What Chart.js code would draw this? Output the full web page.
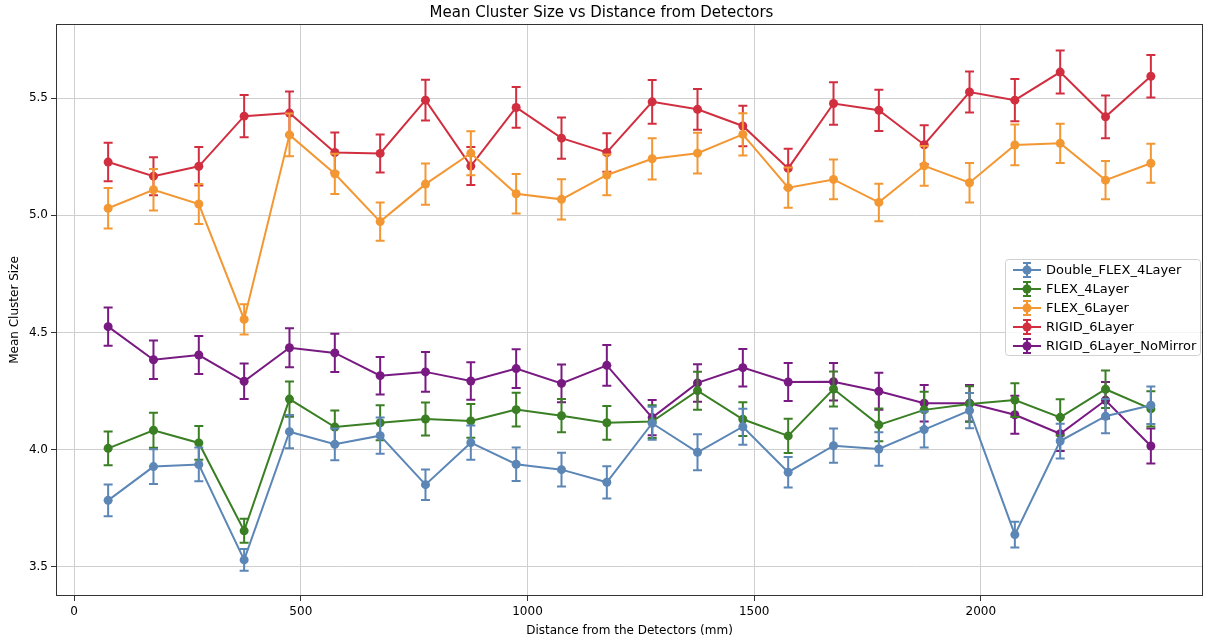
<!DOCTYPE html>
<html>
<head>
<meta charset="utf-8">
<script src="https://cdn.jsdelivr.net/npm/chart.js@4.4.1/dist/chart.umd.min.js"></script>
<style>
  html, body { margin: 0; padding: 0; background: #fff; }
  #wrap { width: 1209px; height: 641px; }
</style>
</head>
<body>
<div id="wrap"><canvas id="myChart"></canvas></div>
<script>
// distances (mm)
const distances = [75, 175, 275, 375, 475, 575, 675, 775, 875, 975, 1075, 1175,
                   1275, 1375, 1475, 1575, 1675, 1775, 1875, 1975, 2075, 2175, 2275, 2375];

const xTicks = [0, 500, 1000, 1500, 2000];
const yTicks = [3.5, 4.0, 4.5, 5.0, 5.5];

const seriesNames = ['Double_FLEX_4Layer', 'FLEX_4Layer', 'FLEX_6Layer', 'RIGID_6Layer', 'RIGID_6Layer_NoMirror'];

const doubleFlex4 = [3.784, 3.928, 3.937, 3.530, 4.077, 4.023, 4.060, 3.851, 4.030, 3.938, 3.915, 3.861,
                     4.113, 3.989, 4.098, 3.904, 4.017, 4.003, 4.086, 4.167, 3.638, 4.037, 4.143, 4.190];
const doubleFlex4Err = [0.068, 0.074, 0.072, 0.046, 0.071, 0.068, 0.077, 0.065, 0.073, 0.071, 0.072, 0.069,
                        0.070, 0.077, 0.077, 0.065, 0.073, 0.071, 0.077, 0.075, 0.055, 0.074, 0.073, 0.080];

const flex4 = [4.006, 4.083, 4.029, 3.654, 4.216, 4.097, 4.115, 4.131, 4.123, 4.171, 4.145, 4.115,
               4.120, 4.252, 4.130, 4.059, 4.259, 4.106, 4.170, 4.195, 4.212, 4.138, 4.258, 4.174];
const flex4Err = [0.072, 0.075, 0.072, 0.051, 0.075, 0.070, 0.075, 0.070, 0.072, 0.072, 0.071, 0.072,
                  0.070, 0.081, 0.072, 0.073, 0.075, 0.070, 0.077, 0.076, 0.072, 0.077, 0.080, 0.075];

const flex6 = [5.030, 5.109, 5.048, 4.556, 5.343, 5.177, 4.973, 5.133, 5.265, 5.092, 5.068, 5.172,
               5.241, 5.265, 5.345, 5.118, 5.153, 5.055, 5.211, 5.139, 5.300, 5.307, 5.150, 5.222];
const flex6Err = [0.086, 0.089, 0.085, 0.064, 0.091, 0.086, 0.082, 0.088, 0.094, 0.084, 0.086, 0.087,
                  0.088, 0.087, 0.090, 0.086, 0.085, 0.080, 0.085, 0.084, 0.087, 0.084, 0.082, 0.083];

const rigid6 = [5.227, 5.167, 5.209, 5.423, 5.436, 5.268, 5.264, 5.491, 5.210, 5.460, 5.329, 5.268,
                5.484, 5.452, 5.381, 5.200, 5.477, 5.448, 5.301, 5.526, 5.491, 5.611, 5.420, 5.593];
const rigid6Err = [0.082, 0.081, 0.082, 0.090, 0.092, 0.085, 0.081, 0.087, 0.081, 0.087, 0.088, 0.082,
                   0.093, 0.087, 0.086, 0.084, 0.091, 0.088, 0.083, 0.087, 0.090, 0.092, 0.091, 0.091];

const rigid6NoMirror = [4.525, 4.384, 4.404, 4.292, 4.435, 4.413, 4.316, 4.332, 4.293, 4.346, 4.283, 4.360,
                        4.137, 4.285, 4.350, 4.289, 4.290, 4.249, 4.198, 4.198, 4.149, 4.068, 4.211, 4.016];
const rigid6NoMirrorErr = [0.082, 0.082, 0.081, 0.076, 0.083, 0.082, 0.080, 0.085, 0.080, 0.083, 0.081, 0.087,
                           0.075, 0.080, 0.080, 0.081, 0.080, 0.079, 0.078, 0.078, 0.081, 0.074, 0.078, 0.075];

const colors = ['#5b86b6', '#3a7f24', '#f39732', '#d12f40', '#781a82'];

const allValues = [doubleFlex4, flex4, flex6, rigid6, rigid6NoMirror];
const allErrors = [doubleFlex4Err, flex4Err, flex6Err, rigid6Err, rigid6NoMirrorErr];

const datasets = seriesNames.map(function (name, k) {
  return {
    label: name,
    data: distances.map(function (d, i) { return { x: d, y: allValues[k][i] }; }),
    errors: allErrors[k],
    showLine: true,
    borderColor: colors[k],
    backgroundColor: colors[k],
    borderWidth: 2,
    pointRadius: 4.5,
    pointHoverRadius: 4.5,
    pointBorderWidth: 0,
    tension: 0
  };
});

// error bars, drawn under each series' own line
const errorBars = {
  id: 'errorBars',
  beforeDatasetDraw(chart, args) {
    const ds = chart.data.datasets[args.index];
    const yScale = chart.scales.y;
    const c = chart.ctx;
    c.save();
    c.strokeStyle = ds.borderColor;
    c.lineWidth = 2;
    args.meta.data.forEach(function (pt, i) {
      const v = ds.data[i].y, e = ds.errors[i];
      const top = yScale.getPixelForValue(v + e);
      const bot = yScale.getPixelForValue(v - e);
      c.beginPath();
      c.moveTo(pt.x, top); c.lineTo(pt.x, bot);
      c.moveTo(pt.x - 4.5, top); c.lineTo(pt.x + 4.5, top);
      c.moveTo(pt.x - 4.5, bot); c.lineTo(pt.x + 4.5, bot);
      c.stroke();
    });
    c.restore();
  }
};

// axes frame + legend box
const frameAndLegend = {
  id: 'frameAndLegend',
  afterDraw(chart) {
    const a = chart.chartArea;
    const c = chart.ctx;
    c.save();
    c.strokeStyle = '#333';
    c.lineWidth = 1;
    c.strokeRect(a.left + 0.5, a.top + 0.5, a.right - a.left - 1, a.bottom - a.top - 1);

    const bx = 1005, by = 259, bw = 195, bh = 96;
    c.fillStyle = 'rgba(255,255,255,0.8)';
    c.strokeStyle = '#d0d0d0';
    c.beginPath();
    c.roundRect(bx + 0.5, by + 0.5, bw, bh, 3);
    c.fill(); c.stroke();

    c.font = '13px "DejaVu Sans"';
    c.textBaseline = 'middle';
    seriesNames.forEach(function (name, k) {
      const y = by + 11 + k * 19;
      const x0 = bx + 8, x1 = bx + 36, xm = (x0 + x1) / 2;
      c.strokeStyle = colors[k];
      c.fillStyle = colors[k];
      c.lineWidth = 2;
      c.beginPath();
      c.moveTo(x0, y); c.lineTo(x1, y);
      c.moveTo(xm, y - 7); c.lineTo(xm, y + 7);
      c.moveTo(xm - 4, y - 7); c.lineTo(xm + 4, y - 7);
      c.moveTo(xm - 4, y + 7); c.lineTo(xm + 4, y + 7);
      c.stroke();
      c.beginPath();
      c.arc(xm, y, 4.5, 0, Math.PI * 2);
      c.fill();
      c.fillStyle = '#000';
      c.fillText(name, bx + 41, y + 1);
    });
    c.restore();
  }
};

const ctx = document.getElementById('myChart');
new Chart(ctx, {
  type: 'scatter',
  data: { datasets: datasets },
  plugins: [errorBars, frameAndLegend],
  options: {
    responsive: true,
    maintainAspectRatio: false,
    animation: false,
    layout: { padding: { left: 0, right: 6, top: 0, bottom: 0 } },
    plugins: {
      legend: { display: false },
      tooltip: { enabled: false },
      title: {
        display: true,
        text: 'Mean Cluster Size vs Distance from Detectors',
        color: '#000',
        font: { size: 15, family: 'DejaVu Sans', weight: 'normal' },
        padding: { top: 4, bottom: 2 }
      }
    },
    scales: {
      x: {
        type: 'linear',
        min: -40,
        max: 2490,
        afterBuildTicks: function (scale) { scale.ticks = xTicks.map(function (v) { return { value: v }; }); },
        afterFit: function (scale) { scale.height = 45; },
        ticks: {
          color: '#000',
          font: { size: 12, family: 'DejaVu Sans' },
          maxRotation: 0,
          padding: 4,
          callback: function (v) { return String(v); }
        },
        grid: { color: '#cfcfcf', lineWidth: 1, tickLength: 5, tickColor: '#333' },
        border: { display: false },
        title: {
          display: true,
          text: 'Distance from the Detectors (mm)',
          color: '#000',
          font: { size: 12, family: 'DejaVu Sans' },
          padding: { top: 2, bottom: 3 }
        }
      },
      y: {
        min: 3.376,
        max: 5.816,
        afterBuildTicks: function (scale) { scale.ticks = yTicks.map(function (v) { return { value: v }; }); },
        afterFit: function (scale) { scale.width = 56; },
        ticks: {
          color: '#000',
          font: { size: 12, family: 'DejaVu Sans' },
          padding: 3,
          callback: function (v) { return Number(v).toFixed(1); }
        },
        grid: { color: '#cfcfcf', lineWidth: 1, tickLength: 5, tickColor: '#333' },
        border: { display: false },
        title: {
          display: true,
          text: 'Mean Cluster Size',
          color: '#000',
          font: { size: 12, family: 'DejaVu Sans' },
          padding: { top: 8, bottom: 0 }
        }
      }
    }
  }
});
</script>
</body>
</html>
